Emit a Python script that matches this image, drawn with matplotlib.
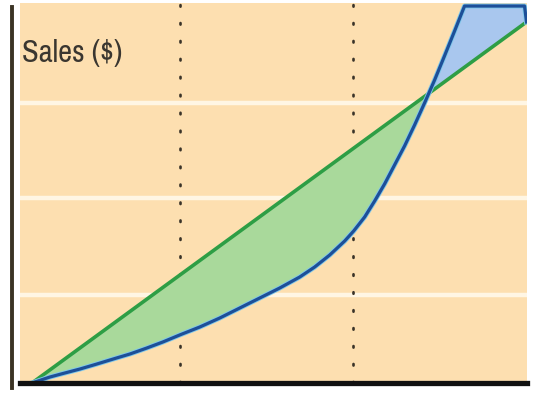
import numpy as np
import matplotlib
matplotlib.use("Agg")
import matplotlib.pyplot as plt
from matplotlib.lines import Line2D
from matplotlib import font_manager

# Revenue line (straight) and cost curve, in percent of the plotted range
revenue_x = [0, 100]
revenue_y = [0, 95]

cost_x = [0, 3.64, 6.26, 9.70, 13.13, 16.77, 19.80, 23.23, 26.46, 30.10,
          33.94, 37.98, 42.02, 46.06, 50.10, 54.14, 57.17, 60.20, 63.23,
          65.05, 67.27, 69.29, 71.31, 73.33, 75.35, 77.37, 79.39, 81.41,
          83.43, 85.45, 87.47, 99.6, 100]
cost_y = [0, 1.58, 2.5, 3.68, 5.0, 6.45, 7.63, 9.21, 10.79, 12.76,
          14.74, 17.11, 19.74, 22.37, 25.0, 27.89, 30.53, 33.68, 37.37,
          40.0, 43.68, 47.89, 52.4, 57.4, 62.4, 67.9, 73.7, 79.7,
          86.1, 92.6, 99.2, 99.2, 95]

period_marks = [30, 65]
grid_levels = [23.2, 48.7, 73.7]
y_label = "Sales ($)"

W, H = 550, 394
fig = plt.figure(figsize=(W / 100, H / 100), dpi=100)
fig.patch.set_facecolor("white")

ax = fig.add_axes([20 / W, (H - 383) / H, (527 - 20) / W, (383 - 3) / H])
ax.set_facecolor("#fddfb0")
ax.set_xlim(-2.42, 100.1)
ax.set_ylim(0, 100)
for s in ax.spines.values():
    s.set_visible(False)
ax.set_xticks([])
ax.set_yticks([])

for g in grid_levels:
    ax.axhline(g, color="#fff6e4", lw=3.2, zorder=1)

for m in period_marks:
    ax.axvline(m, color="#3a3328", lw=1.9, linestyle=(0, (0.6, 6.2)),
               dash_capstyle="round", zorder=2)

cx = np.array(cost_x, dtype=float)
cy = np.array(cost_y, dtype=float)
ry = np.interp(cx, revenue_x, revenue_y)

ax.fill_between(cx, ry, cy, where=ry >= cy, interpolate=True,
                color="#a9d99b", lw=0, zorder=3)
ax.fill_between(cx, ry, cy, where=ry <= cy, interpolate=True,
                color="#a9c7ee", lw=0, zorder=3)

ax.plot(revenue_x, revenue_y, color="#2e9e45", lw=2.6, zorder=4,
        solid_capstyle="butt")
ax.plot(cx, cy, color="#7fc8ea", lw=3.6, zorder=4, solid_joinstyle="round")
ax.plot(cx, cy, color="#1d4f98", lw=2.3, zorder=5, solid_joinstyle="round")

# baseline axis
ax.axhline(0, color="#111111", lw=3.8, zorder=6, clip_on=False)

# vertical axis bar at the far left
fig.add_artist(Line2D([11.5 / W, 11.5 / W], [(H - 388) / H, (H - 7) / H],
                      color="#3b3324", lw=2.8, transform=fig.transFigure))

# prefer a narrow sans for the axis caption
names = sorted({f.name for f in font_manager.fontManager.ttflist})
narrow = [n for n in names if any(k in n for k in ("Condensed", "Narrow"))]
fams = narrow[:1] + ["Roboto", "DejaVu Sans"]

ax.text(0.003, 0.868, y_label, transform=ax.transAxes, ha="left", va="center",
        fontsize=22, color="#3a3630", fontstretch="condensed",
        family=fams, zorder=7)

fig.savefig("out.png", dpi=100, facecolor=fig.get_facecolor())
